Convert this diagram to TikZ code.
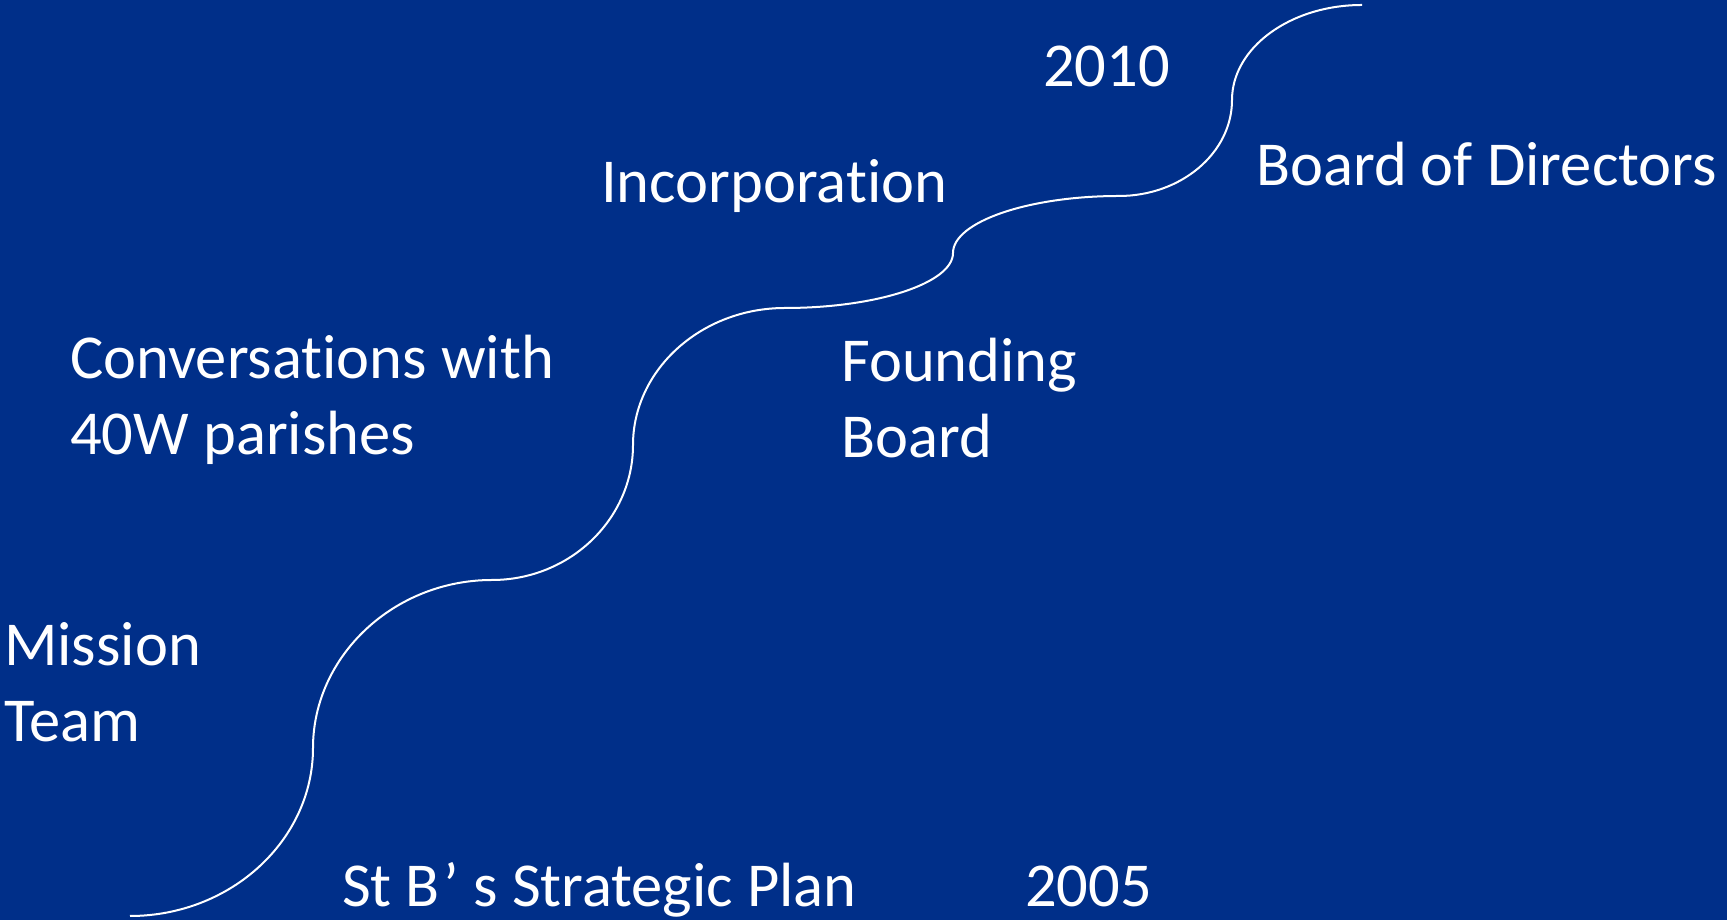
\documentclass[tikz,border=0pt]{standalone}
\usepackage{fontspec}
\setmainfont[Ligatures=NoCommon]{Carlito}

\definecolor{slideblue}{RGB}{0,47,137}

\tikzset{
	milestone/.style={text=white, font=\fontsize{62.5}{76}\selectfont, inner sep=0pt, anchor=base west, align=left},
	stair/.style={white, line width=2pt}
}

\begin{document}
\begin{tikzpicture}[x=1pt, y=1pt]
		
		\fill [slideblue] (0, 0) rectangle (1727, 920);
		\useasboundingbox (0, 0) rectangle (1727, 920);
		
		% turning points of the stairs
		\coordinate (p0) at (130, 4);
		\coordinate (p1) at (313, 172);
		\coordinate (p2) at (492, 340);
		\coordinate (p3) at (633, 475);
		\coordinate (p4) at (785, 612);
		\coordinate (p5) at (953, 667);
		\coordinate (p6) at (1119, 724);
		\coordinate (p7) at (1232, 820);
		\coordinate (p8) at (1362, 915);
		
		\draw [stair] (p0) .. controls +(101, 0) and +(0, -92) .. (p1)
			.. controls +(0, 92) and +(-98, 0) .. (p2)
			.. controls +(78, 0) and +(0, -74) .. (p3)
			.. controls +(0, 75) and +(-84, 0) .. (p4)
			.. controls +(92, 0) and +(0, -30) .. (p5)
			.. controls +(0, 31) and +(-91, 0) .. (p6)
			.. controls +(62, 0) and +(0, -53) .. (p7)
			.. controls +(0, 52) and +(-72, 0) .. (p8);
		
		% multi-line nodes sit on their last baseline
		\node [milestone] (plan) at (342, 13) {St B\kern0.06em’ s Strategic Plan};
		\node [milestone] (start) at (1025, 13) {2005};
		\node [milestone] (mission) at (4, 178) {Mission\\Team};
		\node [milestone] (talks) at (70, 465) {Conversations with\\40W parishes};
		\node [milestone] (founding) at (841, 462) {Founding\\Board};
		\node [milestone] (incorp) at (601, 717) {Incorporation};
		\node [milestone] (finish) at (1043, 833) {2010};
		\node [milestone] (directors) at (1256, 734) {Board of Directors};
		
		\end{tikzpicture}
\end{document}
